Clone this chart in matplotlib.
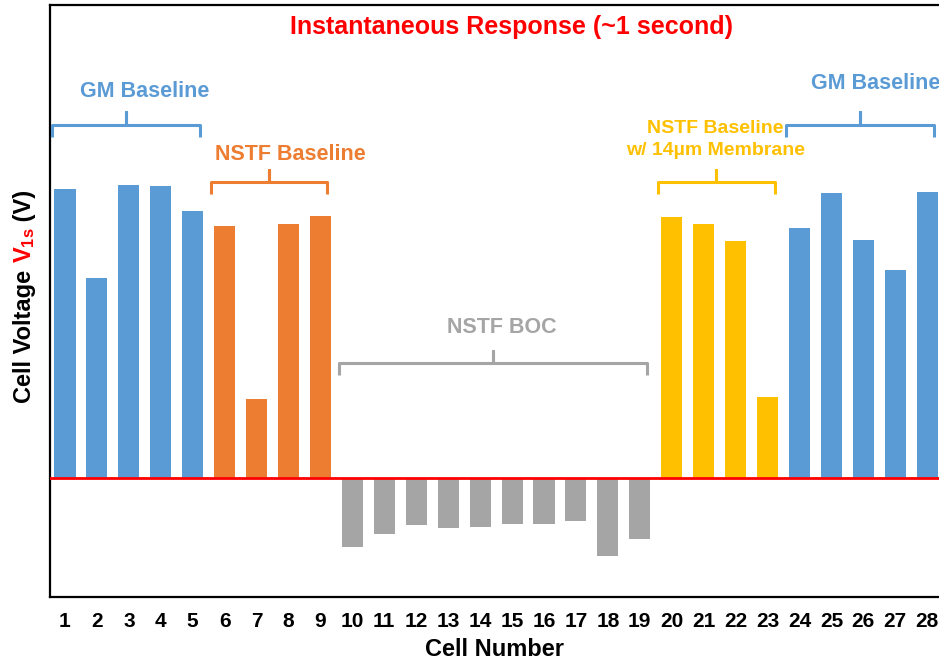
import matplotlib
matplotlib.use("Agg")
import matplotlib.pyplot as plt

plt.rcParams["font.family"] = ["Liberation Sans", "DejaVu Sans"]
plt.rcParams["font.weight"] = "bold"
plt.rcParams["mathtext.fontset"] = "custom"
plt.rcParams["mathtext.rm"] = "Liberation Sans:bold"
plt.rcParams["mathtext.bf"] = "Liberation Sans:bold"
plt.rcParams["mathtext.it"] = "Liberation Sans:bold"

# cell numbers and 1-second voltages (arbitrary scale)
cells = list(range(1, 29))
voltages = [0.826, 0.571, 0.837, 0.834, 0.763,
            0.720, 0.226, 0.726, 0.749,
            -0.197, -0.160, -0.134, -0.143, -0.140, -0.131, -0.131, -0.123, -0.223, -0.174,
            0.746, 0.726, 0.677, 0.231,
            0.714, 0.814, 0.680, 0.594, 0.817]

# groups: label, first cell, last cell, colour
groups = [
    ("GM Baseline", 1, 5, "#5B9BD5"),
    ("NSTF Baseline", 6, 9, "#ED7D31"),
    ("NSTF BOC", 10, 19, "#A5A5A5"),
    ("NSTF Baseline\nw/ 14µm Membrane", 20, 23, "#FFC000"),
    ("GM Baseline", 24, 28, "#5B9BD5"),
]
# bracket height, label position and label size for each group
bracket_y = [1.009, 0.846, 0.329, 0.846, 1.009]
label_y = [1.103, 0.923, 0.431, 0.967, 1.126]
label_x = [3.5, 8.05, 14.69, 21.36, 26.4]
label_size = [15.5, 15.5, 15.5, 14, 15.5]

colors = []
for c in cells:
    for g in groups:
        if g[1] <= c <= g[2]:
            colors.append(g[3])

fig = plt.figure(figsize=(9.39, 6.61), dpi=100)
ax = fig.add_axes([0.0532, 0.0968, 0.9468, 0.8956])

ax.bar(cells, voltages, width=0.66, color=colors, zorder=2)
ax.axhline(0, color="#FF0000", lw=2, zorder=3)

ax.set_xlim(0.53, 28.37)
ax.set_ylim(-0.34, 1.351)
ax.set_xticks(cells)
ax.set_xticklabels([str(c) for c in cells], fontsize=15, fontweight="bold")
ax.tick_params(axis="x", length=0, pad=11)
ax.set_yticks([])
ax.spines["right"].set_visible(False)
for s in ["left", "top", "bottom"]:
    ax.spines[s].set_linewidth(1.6)
ax.set_xlabel("Cell Number", fontsize=17, fontweight="bold", labelpad=5)

ax.text(14.97, 0.963, "Instantaneous Response (~1 second)",
        transform=ax.get_xaxis_transform(),
        ha="center", va="center", color="#FF0000", fontsize=18, fontweight="bold")

# brackets
for (label, first, last, col), by, ly, lx, ls in zip(groups, bracket_y, label_y,
                                                     label_x, label_size):
    x0 = first - 0.42
    x1 = last + 0.22
    xm = (x0 + x1) / 2
    drop = 0.034
    ax.plot([x0, x0, xm, xm, xm, x1, x1],
            [by - drop, by, by, by + 0.035, by, by, by - drop],
            color=col, lw=2.2, solid_joinstyle="round", solid_capstyle="butt",
            clip_on=False, zorder=4)
    ax.text(lx, ly, label, ha="center", va="center", color=col, fontsize=ls,
            fontweight="bold", linespacing=1.4, clip_on=False)

# y label in pieces: black / red subscript / black
fig.canvas.draw()
r = fig.canvas.get_renderer()
y = 403
parts = [("Cell Voltage ", "black"), (r"$\mathregular{V_{1s}}$", "#FF0000"), (" (V)", "black")]
for txt, col in parts:
    t = fig.text(25 / 939, 1 - y / 661, txt, rotation=90, ha="center", va="bottom",
                 fontsize=17, fontweight="bold", color=col)
    bb = t.get_window_extent(renderer=r)
    y -= bb.height

fig.savefig("out.png", dpi=100)
